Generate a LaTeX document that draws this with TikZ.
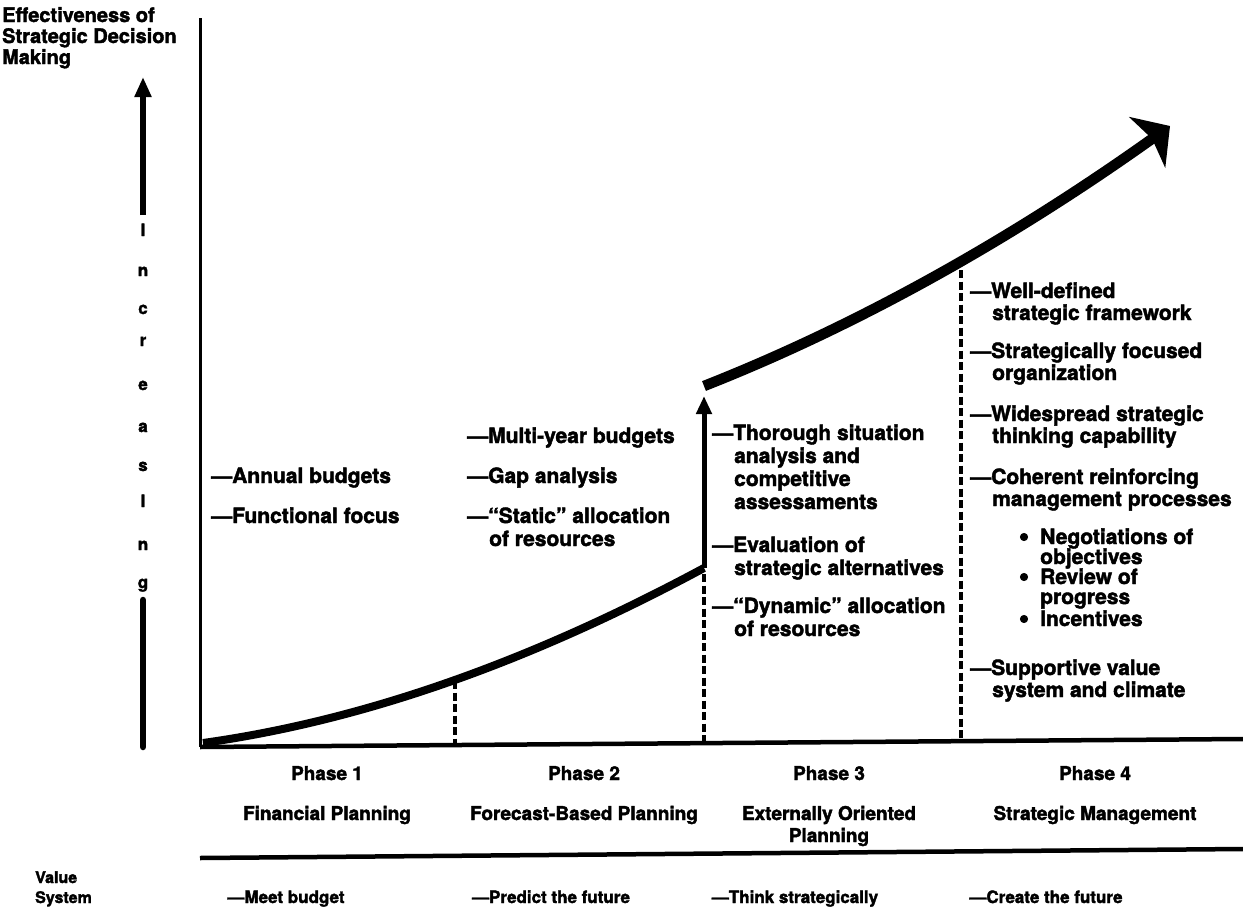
\documentclass[tikz,border=0pt]{standalone}
\usepackage{fontspec}
\setmainfont{TeX Gyre Heros}[BoldFeatures={FakeBold=2}]
\usetikzlibrary{arrows.meta}

\begin{document}
\begin{tikzpicture}[x=1pt,y=-1pt,
  body/.style={font=\fontsize{21}{22}\selectfont\bfseries, anchor=base west, inner sep=0pt},
  phase/.style={font=\fontsize{19}{20}\selectfont\bfseries, anchor=base, inner sep=0pt},
  valtxt/.style={font=\fontsize{17}{19}\selectfont\bfseries, anchor=base, inner sep=0pt},
  letter/.style={font=\fontsize{17}{18}\selectfont\bfseries, anchor=base, inner sep=0pt},
  heading/.style={font=\fontsize{20}{21}\selectfont\bfseries, anchor=base west, inner sep=0pt},
  sidehead/.style={font=\fontsize{16}{18}\selectfont\bfseries, anchor=base west, inner sep=0pt},
  bul/.style={font=\fontsize{30}{30}\selectfont\bfseries, anchor=base, inner sep=0pt},
  axisline/.style={line width=3pt},
  rule/.style={line width=4.5pt},
  growth/.style={line width=9pt},
  guide/.style={line width=4pt, dash pattern=on 8pt off 3.5pt},
  riser/.style={line width=6.5pt},
]
\useasboundingbox (0,0) rectangle (1243,924);

% ---- axis heading
\node[heading] (h1) at (2,22) {Effectiveness of};
\node[heading] (h2) at (2,43) {Strategic Decision};
\node[heading] (h3) at (2,64) {Making};

% ---- axes
\coordinate (ytop) at (200,18);
\coordinate (O) at (200,747);
\coordinate (xend) at (1243,739);
\draw[axisline] (ytop) -- (O);
\draw[rule] (O) -- (xend);

% ---- "Increasing" arrow
\coordinate (arrA) at (143,215);
\coordinate (arrTip) at (143,77);
\coordinate (arrB) at (143,600);
\coordinate (arrC) at (143,747);
\draw[riser, -{Triangle[length=20pt,width=16pt]}] (arrA) -- (arrTip);
\draw[riser, line cap=round] (arrB) -- (arrC);
\node[letter] (l1) at (143,236) {I};
\node[letter] (l2) at (143,276) {n};
\node[letter] (l3) at (143,314) {c};
\node[letter] (l4) at (143,346) {r};
\node[letter] (l5) at (143,390) {e};
\node[letter] (l6) at (143,432) {a};
\node[letter] (l7) at (143,471) {s};
\node[letter] (l8) at (143,507) {I};
\node[letter] (l9) at (143,550) {n};
\node[letter] (l10) at (143,588) {g};

% ---- growth curve
\coordinate (c0) at (203,743);
\coordinate (J1) at (704,568);
\coordinate (J1tip) at (704,396);
\coordinate (J2) at (704,386);
\coordinate (T) at (1170,126);
\draw[growth, line width=8pt] (c0) .. controls (368,720) and (535,659) .. (J1);
\draw[line width=5pt, -{Triangle[length=18pt,width=15pt]}] (J1) -- (J1tip);
\draw[growth, line width=10.5pt, -{Stealth[length=28pt,width=62pt,inset=6pt]}]
  (J2) .. controls (859,325) and (1013,238) .. (T);

% ---- phase boundaries
\coordinate (d1t) at (455,681);
\coordinate (d1b) at (455,746);
\coordinate (d2t) at (704,574);
\coordinate (d2b) at (704,744);
\coordinate (d3t) at (961,270);
\coordinate (d3b) at (961,742);
\draw[guide] (d1t) -- (d1b);
\draw[guide] (d2t) -- (d2b);
\draw[guide] (d3t) -- (d3b);

% ---- phase 1 features
\node[body] (p1a) at (211,483) {—Annual budgets};
\node[body] (p1b) at (211,523) {—Functional focus};

% ---- phase 2 features
\node[body] (p2a) at (467,443) {—Multi-year budgets};
\node[body] (p2b) at (467,483) {—Gap analysis};
\node[body] (p2c) at (467,523) {—“Static” allocation};
\node[body] (p2d) at (489,546) {of resources};

% ---- phase 3 features
\node[body] (p3a) at (712,440) {—Thorough situation};
\node[body] (p3b) at (734,463) {analysis and};
\node[body] (p3c) at (734,486) {competitive};
\node[body] (p3d) at (734,509) {assessaments};
\node[body] (p3e) at (712,552) {—Evaluation of};
\node[body] (p3f) at (734,575) {strategic alternatives};
\node[body] (p3g) at (712,613) {—“Dynamic” allocation};
\node[body] (p3h) at (734,636) {of resources};

% ---- phase 4 features
\node[body] (p4a) at (970,298) {—Well-defined};
\node[body] (p4b) at (992,320) {strategic framework};
\node[body] (p4c) at (970,358) {—Strategically focused};
\node[body] (p4d) at (992,380) {organization};
\node[body] (p4e) at (970,421) {—Widespread strategic};
\node[body] (p4f) at (992,443) {thinking capability};
\node[body] (p4g) at (970,484) {—Coherent reinforcing};
\node[body] (p4h) at (992,506) {management processes};
\node[bul] (b1) at (1024,546) {•};
\node[body] (p4i) at (1040,544) {Negotiations of};
\node[body] (p4j) at (1040,564) {objectives};
\node[bul] (b2) at (1024,586) {•};
\node[body] (p4k) at (1040,584) {Review of};
\node[body] (p4l) at (1040,604) {progress};
\node[bul] (b3) at (1024,628) {•};
\node[body] (p4m) at (1040,626) {Incentives};
\node[body] (p4n) at (970,675) {—Supportive value};
\node[body] (p4o) at (992,697) {system and climate};

% ---- phase names
\node[phase] (n1) at (327,780) {Phase 1};
\node[phase] (n1b) at (327,820) {Financial Planning};
\node[phase] (n2) at (584,780) {Phase 2};
\node[phase] (n2b) at (584,820) {Forecast-Based Planning};
\node[phase] (n3) at (829,780) {Phase 3};
\node[phase] (n3b) at (829,820) {Externally Oriented};
\node[phase] (n3c) at (829,842) {Planning};
\node[phase] (n4) at (1095,780) {Phase 4};
\node[phase] (n4b) at (1095,820) {Strategic Management};

% ---- value system row
\coordinate (r0) at (200,858);
\coordinate (r1) at (1243,849);
\draw[rule] (r0) -- (r1);
\node[sidehead] (vs1) at (35,883) {Value};
\node[sidehead] (vs2) at (35,903) {System};
\node[valtxt] (v1) at (286,903) {—Meet budget};
\node[valtxt] (v2) at (551,903) {—Predict the future};
\node[valtxt] (v3) at (795,903) {—Think strategically};
\node[valtxt] (v4) at (1046,903) {—Create the future};
\end{tikzpicture}
\end{document}
